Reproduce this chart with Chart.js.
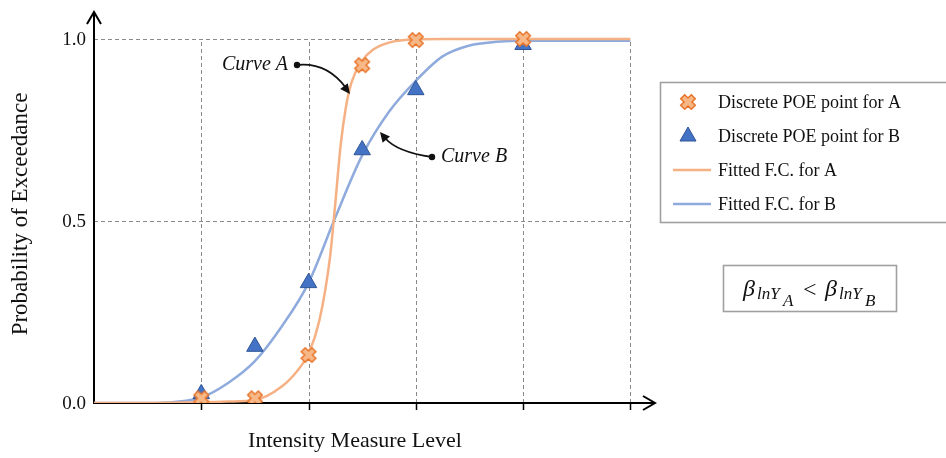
<!DOCTYPE html>
<html>
<head>
<meta charset="utf-8">
<script src="https://cdn.jsdelivr.net/npm/chart.js@4"></script>
<style>
  html, body { margin: 0; padding: 0; background: #fff; }
  #wrap { width: 946px; height: 458px; position: relative; }
</style>
</head>
<body>
<div id="wrap"><canvas id="canvas"></canvas></div>
<script>
// discrete probability-of-exceedance points
var poeX = [1, 1.5, 2, 2.5, 3, 4];
var poeA = [0.013, 0.013, 0.132, 0.928, 0.997, 1.0];
var poeB = [0.025, 0.155, 0.33, 0.695, 0.86, 0.984];

// fitted fragility curves
var fitAx = [0, 0.5, 0.75, 1.0, 1.25, 1.5, 1.75, 1.9, 2.0, 2.1, 2.2, 2.25, 2.3, 2.35, 2.4, 2.5, 2.6, 2.75, 3.0, 3.25, 3.5, 4.0, 4.5, 5.0];
var fitAy = [0, 0, 0.001, 0.002, 0.004, 0.008, 0.045, 0.09, 0.135, 0.225, 0.40, 0.55, 0.71, 0.815, 0.88, 0.94, 0.97, 0.99, 0.999, 1, 1, 1, 1, 1];
var fitBx = [0, 0.5, 0.75, 1.0, 1.25, 1.5, 1.75, 2.0, 2.25, 2.5, 2.75, 3.0, 3.25, 3.5, 3.75, 4.0, 4.5, 5.0];
var fitBy = [0, 0, 0.003, 0.015, 0.055, 0.115, 0.21, 0.33, 0.51, 0.68, 0.80, 0.885, 0.952, 0.982, 0.992, 0.995, 0.995, 0.995];

var xTicks = [1, 2, 3, 4, 5];
var yTicks = [0, 0.5, 1.0];
var gridTicksY = [0.5, 1.0];

var ORANGE_LINE = "#F5B183";
var BLUE_LINE = "#8FAADC";
var SERIF = '"Liberation Serif", "DejaVu Serif", serif';

function pts(xs, ys) {
    var out = [];
    for (var i = 0; i < xs.length; i++) out.push({ x: xs[i], y: ys[i] });
    return out;
}

// thick "x" marker
function makeCross() {
    var c = document.createElement("canvas");
    c.width = 20; c.height = 20;
    var g = c.getContext("2d");
    var w = 2.8, L = 7.5;
    var shape = [[-w,-L],[w,-L],[w,-w],[L,-w],[L,w],[w,w],[w,L],[-w,L],[-w,w],[-L,w],[-L,-w],[-w,-w]];
    g.translate(10, 10);
    g.rotate(Math.PI / 4);
    g.beginPath();
    shape.forEach(function (p, i) { i ? g.lineTo(p[0], p[1]) : g.moveTo(p[0], p[1]); });
    g.closePath();
    g.fillStyle = "#F7B887";
    g.fill();
    g.lineWidth = 1.5;
    g.strokeStyle = "#E8742A";
    g.stroke();
    return c;
}
var crossImg = makeCross();

function arrowHead(ctx, x, y, dx, dy, size) {
    var a = Math.atan2(dy, dx);
    ctx.beginPath();
    ctx.moveTo(x, y);
    ctx.lineTo(x - size * Math.cos(a - 0.45), y - size * Math.sin(a - 0.45));
    ctx.lineTo(x - size * Math.cos(a + 0.45), y - size * Math.sin(a + 0.45));
    ctx.closePath();
    ctx.fill();
}

var framePlugin = {
    id: "frame",
    beforeDatasetsDraw: function (chart) {
        var ctx = chart.ctx, xs = chart.scales.x, ys = chart.scales.y;
        var x0 = xs.getPixelForValue(0), y0 = ys.getPixelForValue(0);
        var x5 = xs.getPixelForValue(5), y1 = ys.getPixelForValue(1);
        ctx.save();
        // dashed grid
        ctx.strokeStyle = "#8a8a8a";
        ctx.lineWidth = 1;
        ctx.setLineDash([4, 3]);
        xTicks.forEach(function (v) {
            var px = Math.round(xs.getPixelForValue(v)) + 0.5;
            ctx.beginPath(); ctx.moveTo(px, y0); ctx.lineTo(px, y1); ctx.stroke();
        });
        gridTicksY.forEach(function (v) {
            var py = Math.round(ys.getPixelForValue(v)) + 0.5;
            ctx.beginPath(); ctx.moveTo(x0, py); ctx.lineTo(x5, py); ctx.stroke();
        });
        ctx.setLineDash([]);

        // axes with arrows
        var top = chart.chartArea.top, right = chart.chartArea.right;
        ctx.strokeStyle = "#000";
        ctx.lineWidth = 2;
        ctx.beginPath();
        ctx.moveTo(x0, y0 + 1); ctx.lineTo(x0, top);
        ctx.moveTo(x0 - 1, y0); ctx.lineTo(right, y0);
        ctx.stroke();
        ctx.beginPath();
        ctx.moveTo(x0 - 7, top + 12); ctx.lineTo(x0, top); ctx.lineTo(x0 + 7, top + 12);
        ctx.moveTo(right - 12, y0 - 7); ctx.lineTo(right, y0); ctx.lineTo(right - 12, y0 + 7);
        ctx.stroke();
        // tick marks
        ctx.lineWidth = 1.5;
        xTicks.forEach(function (v) {
            var px = Math.round(xs.getPixelForValue(v)) + 0.5;
            ctx.beginPath(); ctx.moveTo(px, y0); ctx.lineTo(px, y0 + 7); ctx.stroke();
        });

        // tick labels and titles
        ctx.fillStyle = "#111";
        ctx.font = "19px " + SERIF;
        ctx.textAlign = "right";
        ctx.textBaseline = "middle";
        yTicks.forEach(function (v) {
            ctx.fillText(v.toFixed(1), x0 - 8, ys.getPixelForValue(v) + 1);
        });
        ctx.font = "22px " + SERIF;
        ctx.textAlign = "center";
        ctx.fillText("Intensity Measure Level", 355, 441);
        ctx.save();
        ctx.font = "23px " + SERIF;
        ctx.translate(21, 214);
        ctx.rotate(-Math.PI / 2);
        ctx.fillText("Probability of Exceedance", 0, 0);
        ctx.restore();
        ctx.restore();
    },
    afterDatasetsDraw: function (chart) {
        var ctx = chart.ctx;
        ctx.save();

        // curve annotations
        ctx.fillStyle = "#111";
        ctx.strokeStyle = "#111";
        ctx.font = "italic 20px " + SERIF;
        ctx.textBaseline = "middle";
        ctx.textAlign = "right";
        ctx.fillText("Curve A", 288, 65);
        ctx.textAlign = "left";
        ctx.fillText("Curve B", 441, 157);
        ctx.lineWidth = 1.8;
        ctx.beginPath(); ctx.arc(297, 65, 3.2, 0, Math.PI * 2); ctx.fill();
        ctx.beginPath(); ctx.moveTo(297, 65); ctx.quadraticCurveTo(327, 62, 346, 88); ctx.stroke();
        arrowHead(ctx, 350, 94, 23, 30, 11);
        ctx.beginPath(); ctx.arc(432, 157, 3.2, 0, Math.PI * 2); ctx.fill();
        ctx.beginPath(); ctx.moveTo(432, 157); ctx.quadraticCurveTo(397, 152, 385, 138); ctx.stroke();
        arrowHead(ctx, 380, 132, -14, -17, 11);

        // legend
        ctx.strokeStyle = "#a0a0a0";
        ctx.lineWidth = 1.6;
        ctx.strokeRect(660.5, 82.5, 320, 140);
        var rows = [102, 136, 170, 204];
        var labels = ["Discrete POE point for A", "Discrete POE point for B", "Fitted F.C. for A", "Fitted F.C. for B"];
        ctx.drawImage(crossImg, 688 - 10, rows[0] - 10);
        ctx.beginPath();
        ctx.moveTo(688, rows[1] - 9);
        ctx.lineTo(688 + 8, rows[1] + 5);
        ctx.lineTo(688 - 8, rows[1] + 5);
        ctx.closePath();
        ctx.fillStyle = "#4472C4"; ctx.fill();
        ctx.strokeStyle = "#2F5597"; ctx.lineWidth = 1; ctx.stroke();
        ctx.lineWidth = 2.5;
        ctx.strokeStyle = ORANGE_LINE;
        ctx.beginPath(); ctx.moveTo(673, rows[2]); ctx.lineTo(711, rows[2]); ctx.stroke();
        ctx.strokeStyle = BLUE_LINE;
        ctx.beginPath(); ctx.moveTo(673, rows[3]); ctx.lineTo(711, rows[3]); ctx.stroke();
        ctx.fillStyle = "#111";
        ctx.font = "18px " + SERIF;
        ctx.textAlign = "left";
        ctx.textBaseline = "middle";
        labels.forEach(function (t, i) { ctx.fillText(t, 718, rows[i] + 1); });

        // dispersion comparison box
        ctx.strokeStyle = "#a0a0a0";
        ctx.lineWidth = 1.6;
        ctx.strokeRect(723.5, 265.5, 173, 46);
        ctx.textBaseline = "alphabetic";
        ctx.font = "italic 24px " + SERIF;
        ctx.fillText("\u03B2", 743, 296);
        ctx.fillText("\u03B2", 825, 296);
        ctx.font = "italic 17px " + SERIF;
        ctx.fillText("lnY", 757, 299);
        ctx.fillText("lnY", 839, 299);
        ctx.fillText("A", 783, 306);
        ctx.fillText("B", 865, 306);
        ctx.font = "24px " + SERIF;
        ctx.fillText("<", 803, 297);
        ctx.restore();
    }
};

var ctx = document.getElementById("canvas").getContext("2d");
var pChart = new Chart(ctx, {
    type: "scatter",
    data: {
        datasets: [{
            label: "Discrete POE point for A",
            data: pts(poeX, poeA),
            pointStyle: crossImg,
            pointRadius: 10,
            showLine: false
        }, {
            label: "Discrete POE point for B",
            data: pts(poeX, poeB),
            pointStyle: "triangle",
            pointRadius: 9.5,
            backgroundColor: "#4472C4",
            borderColor: "#2F5597",
            borderWidth: 1,
            showLine: false
        }, {
            label: "Fitted F.C. for A",
            data: pts(fitAx, fitAy),
            showLine: true,
            borderColor: ORANGE_LINE,
            borderWidth: 2.5,
            pointRadius: 0,
            cubicInterpolationMode: "monotone"
        }, {
            label: "Fitted F.C. for B",
            data: pts(fitBx, fitBy),
            showLine: true,
            borderColor: BLUE_LINE,
            borderWidth: 2.5,
            pointRadius: 0,
            cubicInterpolationMode: "monotone"
        }]
    },
    options: {
        responsive: true,
        maintainAspectRatio: false,
        animation: false,
        events: [],
        layout: { padding: { left: 94, right: 291, top: 12, bottom: 55 } },
        plugins: { legend: { display: false }, tooltip: { enabled: false } },
        scales: {
            x: { type: "linear", min: 0, max: 5.23, display: false },
            y: { type: "linear", min: 0, max: 1.074, display: false }
        }
    },
    plugins: [framePlugin]
});
</script>
</body>
</html>
